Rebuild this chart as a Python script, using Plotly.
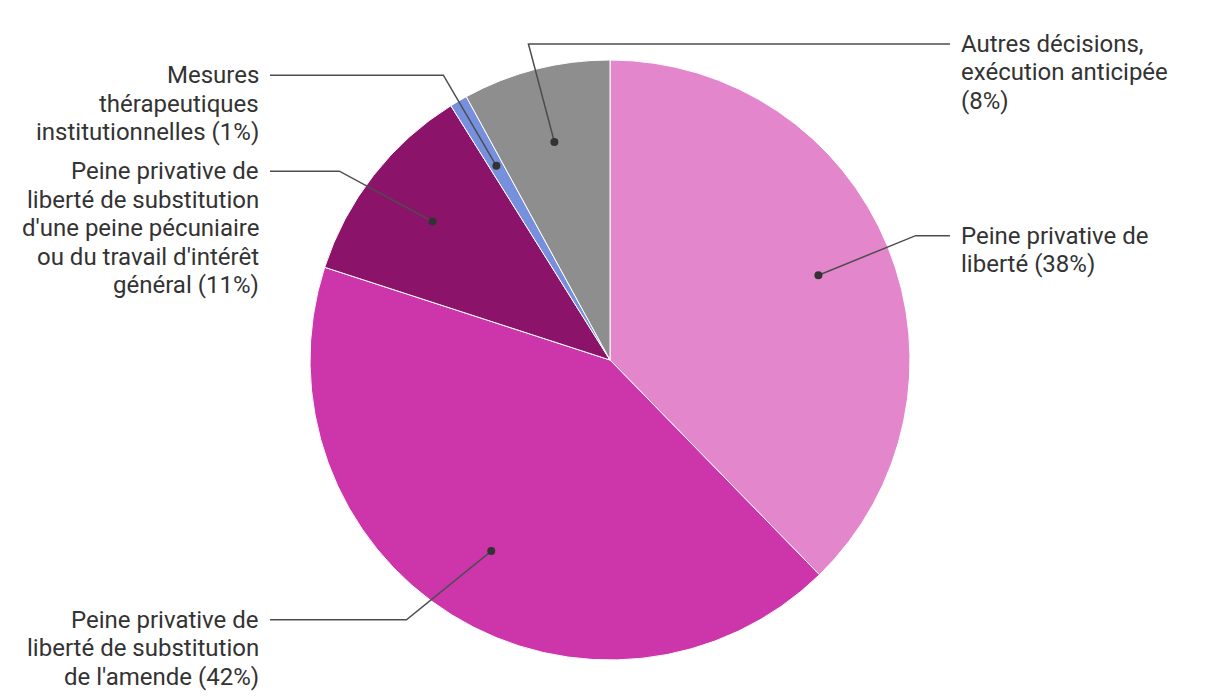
import math
import plotly.graph_objects as go

W, H = 1220, 700

# Data
labels = [
    ["Peine privative de", "liberté"],
    ["Peine privative de", "liberté de substitution", "de l'amende"],
    ["Peine privative de", "liberté de substitution", "d'une peine pécuniaire",
     "ou du travail d'intérêt", "général"],
    ["Mesures", "thérapeutiques", "institutionnelles"],
    ["Autres décisions,", "exécution anticipée", ""],
]
values = [37.7, 42.3, 11.1, 0.95, 7.95]

# Style
colors = ["#E486CC", "#CC36AA", "#8B146A", "#7690DD", "#8E8E8E"]
sides = ["right", "left", "left", "left", "right"]
font_size = 24
line_h = 28.5
cx, cy, R = 610, 360, 300
r_el = 1.1 * R
top_min = 44
OFF = 8  # page body margin


def px(x, y):
    return (x - OFF) / W, 1 - (y - OFF) / H


fig = go.Figure()
fig.add_trace(go.Pie(
    labels=[" ".join(l) for l in labels], values=values, sort=False,
    direction="clockwise", rotation=0,
    marker=dict(colors=colors, line=dict(color="white", width=1)),
    textinfo="none", hoverinfo="label+percent", showlegend=False,
    domain=dict(x=[0, 2 * (cx - OFF) / W],
                y=[1 - (cy - OFF + R) / H, 1 - (cy - OFF - R) / H]),
))

total = sum(values)
items = []
cum = 0
for i, v in enumerate(values):
    theta = 2 * math.pi * (cum + v / 2) / total
    cum += v
    pct = round(100 * v / total)
    lines = list(labels[i])
    lines[-1] = (lines[-1] + " " if lines[-1] else "") + f"({pct}%)"
    y0 = cy - r_el * math.cos(theta)
    items.append(dict(
        theta=theta, lines=lines, side=sides[i], y=y0,
        x=cx + r_el * math.sin(theta), moved=False,
    ))

# avoid overlapping labels on each side
for side in ("left", "right"):
    group = sorted([it for it in items if it["side"] == side], key=lambda d: d["y"])
    prev = None
    for it in group:
        n = len(it["lines"])
        it["y"] = max(it["y"], top_min)
        y_new = it["y"]
        if prev is not None:
            y_new = max(y_new, prev["y"] + len(prev["lines"]) * line_h + 10.5)
        y_new = min(y_new, H - 9 - (n - 1) * line_h - line_h / 2)
        if abs(y_new - it["y"]) > 0.5:
            it["moved"] = True
        it["y"] = y_new
        prev = it

shapes = []
annotations = []
for it in items:
    th = it["theta"]
    dx_, dy_ = cx + 0.75 * R * math.sin(th), cy - 0.75 * R * math.cos(th)
    ey = it["y"]
    ex = it["x"]
    if it["moved"]:
        h = max(0.0, r_el ** 2 - (ey - cy) ** 2)
        ex = cx + math.copysign(math.sqrt(h), math.sin(th))
    endx = 950 if it["side"] == "right" else 270
    p = [px(dx_, dy_), px(ex, ey), px(endx, ey)]
    shapes.append(dict(
        type="path", xref="paper", yref="paper", layer="above",
        path="M {},{} L {},{} L {},{}".format(*p[0], *p[1], *p[2]),
        line=dict(color="#4D4D4D", width=1.5),
    ))
    x0, y0 = px(dx_ - 4, dy_ - 4)
    x1, y1 = px(dx_ + 4, dy_ + 4)
    shapes.append(dict(
        type="circle", xref="paper", yref="paper", layer="above",
        x0=x0, y0=y0, x1=x1, y1=y1,
        fillcolor="#333333", line=dict(color="#333333", width=0),
    ))
    tx = 960 if it["side"] == "right" else 260
    for k, line in enumerate(it["lines"]):
        ax_, ay_ = px(tx, ey + k * line_h)
        annotations.append(dict(
            x=ax_, y=ay_, xref="paper", yref="paper", text=line,
            showarrow=False, xanchor="left" if it["side"] == "right" else "right",
            yanchor="middle", borderpad=0,
            font=dict(family="Roboto", size=font_size, color="#333333"),
        ))

fig.update_layout(
    width=W, height=H,
    margin=dict(l=0, r=0, t=0, b=0),
    paper_bgcolor="white", plot_bgcolor="white",
    shapes=shapes, annotations=annotations,
    font=dict(family="Roboto"),
)

fig.write_html("out.html")
